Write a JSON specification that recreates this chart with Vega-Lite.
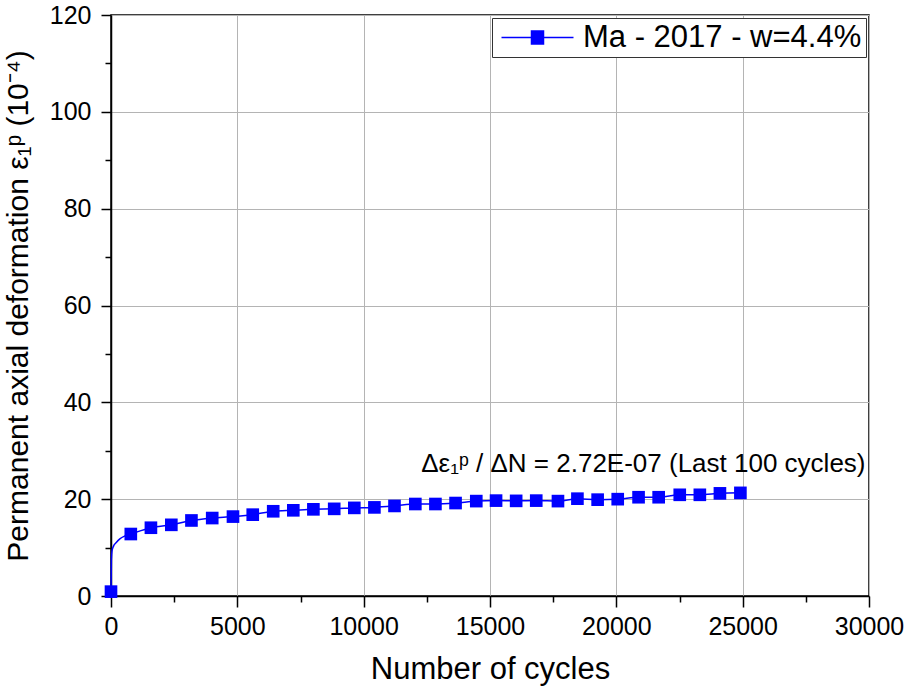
{
  "$schema": "https://vega.github.io/schema/vega-lite/v6.json",
  "width": 758,
  "height": 581,
  "autosize": {"type": "none"},
  "padding": {"left": 111, "top": 15, "right": 37, "bottom": 94},
  "background": "white",
  "config": {
    "font": "Liberation Sans",
    "view": {"stroke": "#000000", "strokeWidth": 1.5},
    "axis": {
      "domainColor": "#000000",
      "domainWidth": 1.5,
      "tickColor": "#000000",
      "tickWidth": 1.5,
      "labelColor": "#000000",
      "titleColor": "#000000",
      "labelFontSize": 25,
      "titleFontWeight": "normal",
      "gridColor": "#b4b4b4",
      "gridWidth": 1
    }
  },
  "datasets": {
    "markers": [
      {"N": 0, "eps": 0.9, "series": "Ma - 2017 - w=4.4%"},
      {"N": 784, "eps": 12.8, "series": "Ma - 2017 - w=4.4%"},
      {"N": 1580, "eps": 14.1, "series": "Ma - 2017 - w=4.4%"},
      {"N": 2388, "eps": 14.7, "series": "Ma - 2017 - w=4.4%"},
      {"N": 3184, "eps": 15.6, "series": "Ma - 2017 - w=4.4%"},
      {"N": 4006, "eps": 16.1, "series": "Ma - 2017 - w=4.4%"},
      {"N": 4828, "eps": 16.4, "series": "Ma - 2017 - w=4.4%"},
      {"N": 5610, "eps": 16.8, "series": "Ma - 2017 - w=4.4%"},
      {"N": 6420, "eps": 17.5, "series": "Ma - 2017 - w=4.4%"},
      {"N": 7215, "eps": 17.7, "series": "Ma - 2017 - w=4.4%"},
      {"N": 8010, "eps": 17.9, "series": "Ma - 2017 - w=4.4%"},
      {"N": 8834, "eps": 18.0, "series": "Ma - 2017 - w=4.4%"},
      {"N": 9630, "eps": 18.2, "series": "Ma - 2017 - w=4.4%"},
      {"N": 10425, "eps": 18.3, "series": "Ma - 2017 - w=4.4%"},
      {"N": 11220, "eps": 18.6, "series": "Ma - 2017 - w=4.4%"},
      {"N": 12045, "eps": 19.0, "series": "Ma - 2017 - w=4.4%"},
      {"N": 12840, "eps": 19.0, "series": "Ma - 2017 - w=4.4%"},
      {"N": 13637, "eps": 19.2, "series": "Ma - 2017 - w=4.4%"},
      {"N": 14457, "eps": 19.6, "series": "Ma - 2017 - w=4.4%"},
      {"N": 15240, "eps": 19.7, "series": "Ma - 2017 - w=4.4%"},
      {"N": 16035, "eps": 19.65, "series": "Ma - 2017 - w=4.4%"},
      {"N": 16830, "eps": 19.7, "series": "Ma - 2017 - w=4.4%"},
      {"N": 17690, "eps": 19.6, "series": "Ma - 2017 - w=4.4%"},
      {"N": 18460, "eps": 20.1, "series": "Ma - 2017 - w=4.4%"},
      {"N": 19260, "eps": 19.9, "series": "Ma - 2017 - w=4.4%"},
      {"N": 20055, "eps": 20.0, "series": "Ma - 2017 - w=4.4%"},
      {"N": 20880, "eps": 20.4, "series": "Ma - 2017 - w=4.4%"},
      {"N": 21675, "eps": 20.4, "series": "Ma - 2017 - w=4.4%"},
      {"N": 22510, "eps": 20.9, "series": "Ma - 2017 - w=4.4%"},
      {"N": 23305, "eps": 20.9, "series": "Ma - 2017 - w=4.4%"},
      {"N": 24100, "eps": 21.2, "series": "Ma - 2017 - w=4.4%"},
      {"N": 24910, "eps": 21.3, "series": "Ma - 2017 - w=4.4%"}
    ],
    "curve": [
      {"N": 0, "eps": 0.0},
      {"N": 15, "eps": 7.5},
      {"N": 40, "eps": 9.3},
      {"N": 100, "eps": 10.3},
      {"N": 200, "eps": 11.0},
      {"N": 350, "eps": 11.8},
      {"N": 550, "eps": 12.4},
      {"N": 784, "eps": 12.8},
      {"N": 1580, "eps": 14.1},
      {"N": 2388, "eps": 14.7},
      {"N": 3184, "eps": 15.6},
      {"N": 4006, "eps": 16.1},
      {"N": 4828, "eps": 16.4},
      {"N": 5610, "eps": 16.8},
      {"N": 6420, "eps": 17.5},
      {"N": 7215, "eps": 17.7},
      {"N": 8010, "eps": 17.9},
      {"N": 8834, "eps": 18.0},
      {"N": 9630, "eps": 18.2},
      {"N": 10425, "eps": 18.3},
      {"N": 11220, "eps": 18.6},
      {"N": 12045, "eps": 19.0},
      {"N": 12840, "eps": 19.0},
      {"N": 13637, "eps": 19.2},
      {"N": 14457, "eps": 19.6},
      {"N": 15240, "eps": 19.7},
      {"N": 16035, "eps": 19.65},
      {"N": 16830, "eps": 19.7},
      {"N": 17690, "eps": 19.6},
      {"N": 18460, "eps": 20.1},
      {"N": 19260, "eps": 19.9},
      {"N": 20055, "eps": 20.0},
      {"N": 20880, "eps": 20.4},
      {"N": 21675, "eps": 20.4},
      {"N": 22510, "eps": 20.9},
      {"N": 23305, "eps": 20.9},
      {"N": 24100, "eps": 21.2},
      {"N": 24910, "eps": 21.3}
    ],
    "note": [
      {"N": 29862, "eps": 25.6, "label": "Δε₁ᵖ / ΔN = 2.72E-07 (Last 100 cycles)"}
    ]
  },
  "layer": [
    {
      "data": {"name": "curve"},
      "mark": {"type": "line", "color": "#0000ff", "strokeWidth": 1.5, "interpolate": "monotone"},
      "encoding": {
        "x": {
          "field": "N", "type": "quantitative",
          "scale": {"domain": [0, 30000], "nice": false},
          "axis": {
            "title": "Number of cycles",
            "titleFontSize": 31,
            "titlePadding": 15,
            "values": [0, 2500, 5000, 7500, 10000, 12500, 15000, 17500, 20000, 22500, 25000, 27500, 30000],
            "format": "d",
            "labelExpr": "datum.value % 5000 == 0 ? datum.label : ''",
            "labelPadding": 7,
            "labelFlush": false,
            "tickSize": {"condition": {"test": "datum.value % 5000 == 0", "value": 11}, "value": 6},
            "gridOpacity": {"condition": {"test": "datum.value % 5000 == 0", "value": 1}, "value": 0}
          }
        },
        "y": {
          "field": "eps", "type": "quantitative",
          "scale": {"domain": [0, 120], "nice": false},
          "axis": {
            "title": "Permanent axial deformation ε₁ᵖ (10⁻⁴)",
            "titleFontSize": 30,
            "titlePadding": 16,
            "values": [0, 10, 20, 30, 40, 50, 60, 70, 80, 90, 100, 110, 120],
            "labelExpr": "datum.value % 20 == 0 ? datum.label : ''",
            "labelPadding": 10,
            "labelFlush": false,
            "tickSize": {"condition": {"test": "datum.value % 20 == 0", "value": 10}, "value": 6},
            "gridOpacity": {"condition": {"test": "datum.value % 20 == 0", "value": 1}, "value": 0}
          }
        }
      }
    },
    {
      "data": {"name": "markers"},
      "mark": {"type": "point", "shape": "square", "filled": true, "size": 160, "opacity": 1},
      "encoding": {
        "x": {"field": "N", "type": "quantitative"},
        "y": {"field": "eps", "type": "quantitative"},
        "color": {
          "field": "series", "type": "nominal",
          "scale": {"range": ["#0000ff"]},
          "legend": {
            "title": null,
            "orient": "top-right",
            "offset": 3,
            "padding": 4,
            "strokeColor": "#333333",
            "fillColor": "#ffffff",
            "labelFontSize": 31,
            "labelLimit": 0,
            "labelColor": "#000000",
            "labelOffset": 56,
            "symbolType": "M-1,0H6.2M2.0,-0.65H3.2V0.65H2.0Z",
            "symbolSize": 400,
            "symbolStrokeColor": "#0000ff",
            "symbolStrokeWidth": 1.5,
            "symbolFillColor": "#0000ff",
            "encode": {"symbols": {
              "enter": {"stroke": {"value": "#0000ff"}, "strokeWidth": {"value": 1.5}},
              "update": {"stroke": {"value": "#0000ff"}, "strokeWidth": {"value": 1.5}, "fill": {"value": "#0000ff"}, "opacity": {"value": 1}, "strokeOpacity": {"value": 1}}
            }}
          }
        }
      }
    },
    {
      "data": {"name": "note"},
      "mark": {"type": "text", "align": "right", "baseline": "alphabetic", "fontSize": 26, "color": "#000000"},
      "encoding": {
        "x": {"field": "N", "type": "quantitative"},
        "y": {"field": "eps", "type": "quantitative"},
        "text": {"field": "label"}
      }
    }
  ]
}
